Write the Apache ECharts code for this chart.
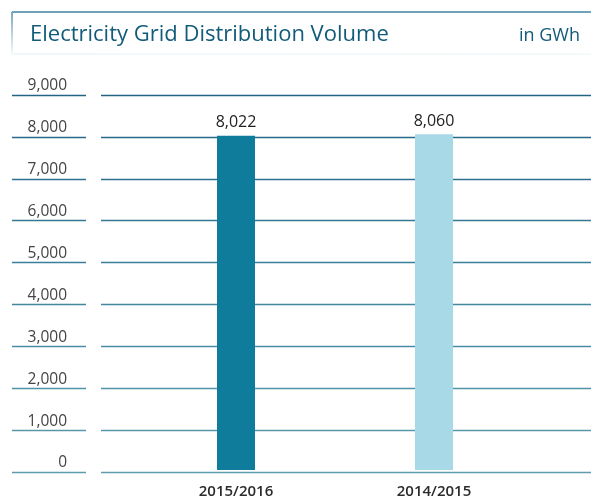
<!DOCTYPE html>
<html>
<head>
<meta charset="utf-8">
<script src="https://cdn.jsdelivr.net/npm/echarts@6/dist/echarts.min.js"></script>
<style>html,body{margin:0;padding:0;background:#fff;}#c{width:591px;height:499px;}</style>
</head>
<body>
<div id="c"></div>
<script>
const categories = ['2015/2016', '2014/2015'];
const values = [8022, 8060];
const barColors = ['#0e7c9a', '#a8d9e7'];
const yTicks = [0, 1000, 2000, 3000, 4000, 5000, 6000, 7000, 8000, 9000];
const titleText = 'Electricity Grid Distribution Volume';
const unitText = 'in GWh';

const lineColors = ['#5e9cad', '#5797aa', '#5092a7', '#498da4', '#4286a0', '#3b7f9b', '#347895', '#2e708f', '#286a89', '#236383'];
const FONT = 'Open Sans';
const TOP = 95, BOTTOM = 27;

const chart = echarts.init(document.getElementById('c'), null, {renderer: 'canvas'});
const yBase = {
  type: 'value', min: yTicks[0], max: yTicks[yTicks.length - 1], interval: 1000,
  axisLine: {show: false}, axisTick: {show: false},
  splitLine: {show: true, lineStyle: {color: lineColors, width: 1.3}}
};
chart.setOption({
  animation: false,
  title: [
    {text: titleText, left: 25, top: 19, textStyle: {fontFamily: FONT, fontSize: 22, fontWeight: 'normal', color: '#135b7a'}},
    {text: unitText, right: 6, top: 22, textStyle: {fontFamily: FONT, fontSize: 18, fontWeight: 'normal', color: '#135b7a'}}
  ],
  graphic: [
    {type: 'line', shape: {x1: 12, y1: 12, x2: 591, y2: 12}, style: {stroke: '#6fa3bb', lineWidth: 2}},
    {type: 'line', shape: {x1: 12, y1: 12, x2: 12, y2: 54}, style: {stroke: new echarts.graphic.LinearGradient(0, 0, 0, 1, [{offset: 0, color: '#6fa3bb'}, {offset: 1, color: 'rgba(111,163,187,0)'}]), lineWidth: 2}},
    {type: 'line', shape: {x1: 12, y1: 54, x2: 591, y2: 54}, style: {stroke: new echarts.graphic.LinearGradient(0, 0, 1, 0, [{offset: 0, color: '#eef4f7'}, {offset: 1, color: '#f4f8fa'}]), lineWidth: 1.5}}
  ],
  grid: [
    {left: 101, right: 0, top: TOP, bottom: BOTTOM},
    {left: 137, width: 396, top: TOP, bottom: BOTTOM},
    {left: 12, width: 74, top: TOP, bottom: BOTTOM}
  ],
  xAxis: [
    {gridIndex: 0, type: 'value', show: false},
    {gridIndex: 1, type: 'category', data: categories, axisLine: {show: false}, axisTick: {show: false},
      axisLabel: {margin: 14, fontFamily: FONT, fontSize: 15, fontWeight: 600, color: '#2b2b2b'}},
    {gridIndex: 2, type: 'value', show: false}
  ],
  yAxis: [
    Object.assign({gridIndex: 0, axisLabel: {show: false}}, yBase),
    Object.assign({gridIndex: 1, axisLabel: {show: false}}, yBase, {splitLine: {show: false}}),
    Object.assign({gridIndex: 2, position: 'right',
      axisLabel: {inside: true, margin: 19, verticalAlign: 'bottom', padding: [0, 0, 1, 0], fontFamily: FONT, fontSize: 15.5, color: '#444',
        formatter: v => v.toLocaleString('en-US')}}, yBase)
  ],
  series: [{
    type: 'bar', xAxisIndex: 1, yAxisIndex: 1, barWidth: 38,
    data: values.map((v, i) => ({value: v, itemStyle: {color: barColors[i]}})),
    label: {show: true, position: 'top', distance: 5, fontFamily: FONT, fontSize: 16, fontWeight: 'normal', color: '#222',
      formatter: p => p.value.toLocaleString('en-US')}
  }]
});
</script>
</body>
</html>
